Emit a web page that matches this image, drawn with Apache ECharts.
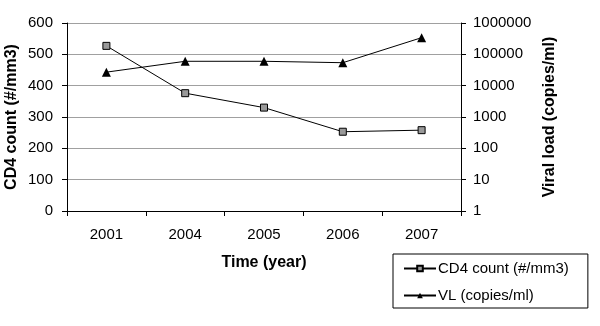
<!DOCTYPE html>
<html>
<head>
<meta charset="utf-8">
<script src="https://cdn.jsdelivr.net/npm/echarts@6/dist/echarts.min.js"></script>
<style>
  html, body { margin: 0; padding: 0; background: #fff; }
  #chart { width: 600px; height: 326px; }
</style>
</head>
<body>
<div id="chart"></div>
<script>
var years = ['2001', '2004', '2005', '2006', '2007'];
var cd4 = [527, 376, 330, 253, 258];
var vl = [27000, 60000, 60000, 54000, 340000];

var myChart = echarts.init(document.getElementById('chart'));
var font = 'Liberation Sans, Arial, sans-serif';

var option = {
  animation: false,
  textStyle: { fontFamily: font, color: '#000' },
  grid: { left: 67, right: 139, top: 23, bottom: 115, containLabel: false, outerBoundsMode: 'none' },
  legend: {
    orient: 'vertical',
    left: 393,
    top: 254,
    padding: [7, 19, 5, 10],
    itemGap: 12,
    itemWidth: 32,
    itemHeight: 7,
    borderColor: '#000',
    borderWidth: 1,
    textStyle: { fontFamily: font, fontSize: 15, color: '#000', padding: [0, 0, 0, -3] },
    data: ['CD4 count (#/mm3)', 'VL (copies/ml)']
  },
  xAxis: {
    type: 'category',
    data: years,
    boundaryGap: true,
    name: 'Time (year)',
    nameLocation: 'middle',
    nameGap: 44,
    nameTextStyle: { fontWeight: 'bold', fontSize: 16, color: '#000' },
    axisLine: { lineStyle: { color: '#000' } },
    axisTick: { show: true, length: 5, lineStyle: { color: '#000' } },
    axisLabel: { color: '#000', fontSize: 15, margin: 16 },
    splitLine: { show: false }
  },
  yAxis: [{
    type: 'value',
    min: 0,
    max: 600,
    interval: 100,
    name: 'CD4 count (#/mm3)',
    nameLocation: 'middle',
    nameRotate: 90,
    nameGap: 47,
    nameMoveOverlap: false,
    nameTextStyle: { fontWeight: 'bold', fontSize: 16, color: '#000' },
    axisLine: { show: true, lineStyle: { color: '#000' } },
    axisTick: { show: true, length: 5, lineStyle: { color: '#000' } },
    axisLabel: { color: '#000', fontSize: 15, margin: 14 },
    splitLine: { show: true, lineStyle: { color: '#a0a0a0', width: 1 } }
  }, {
    type: 'log',
    logBase: 10,
    min: 1,
    max: 1000000,
    name: 'Viral load (copies/ml)',
    nameLocation: 'middle',
    nameRotate: 90,
    nameGap: 81,
    nameMoveOverlap: false,
    nameTextStyle: { fontWeight: 'bold', fontSize: 16, color: '#000' },
    axisLine: { show: true, lineStyle: { color: '#000' } },
    axisTick: { show: true, length: 5, lineStyle: { color: '#000' } },
    axisLabel: {
      color: '#000', fontSize: 15, margin: 12,
      formatter: function (v) { return String(Math.round(v)); }
    },
    splitLine: { show: false }
  }],
  series: [{
    name: 'CD4 count (#/mm3)',
    type: 'line',
    yAxisIndex: 0,
    data: cd4,
    symbol: 'rect',
    symbolSize: 7,
    itemStyle: { color: '#999999', borderColor: '#000', borderWidth: 1 },
    lineStyle: { color: '#000', width: 1 }
  }, {
    name: 'VL (copies/ml)',
    type: 'line',
    yAxisIndex: 1,
    data: vl,
    symbol: 'triangle',
    symbolSize: 9,
    itemStyle: { color: '#000', borderColor: '#000', borderWidth: 0 },
    lineStyle: { color: '#000', width: 1 }
  }]
};

myChart.setOption(option);
window.addEventListener('resize', function () {
  myChart.resize();
});
</script>
</body>
</html>
